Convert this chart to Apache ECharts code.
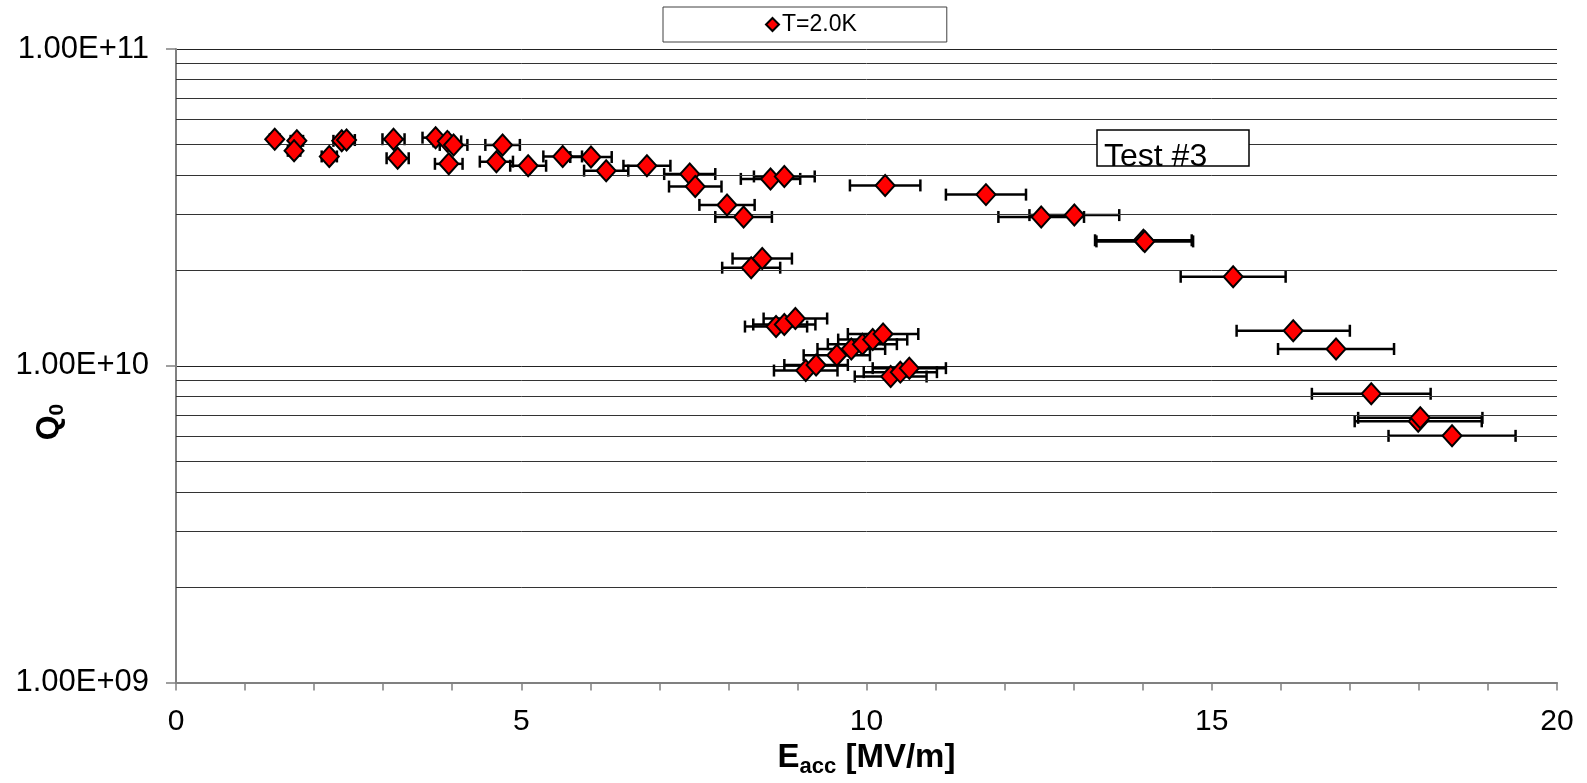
<!DOCTYPE html>
<html>
<head>
<meta charset="utf-8">
<script src="https://cdn.jsdelivr.net/npm/echarts@6/dist/echarts.min.js"></script>
<style>
html,body{margin:0;padding:0;background:#fff;}
#chart{width:1587px;height:783px;}
</style>
</head>
<body>
<div id="chart"></div>
<script>
// ---- data ----
const seriesName = 'T=2.0K';
const eacc = [1.43, 1.75, 1.71, 2.22, 2.40, 2.47, 3.15, 3.21, 3.76, 3.93, 4.02, 3.95, 4.73, 4.64, 5.10, 5.60, 6.01, 6.23, 6.82, 7.44,
  7.52, 7.98, 8.22, 8.61, 8.81, 10.27, 11.73, 12.53, 13.01, 14.01, 14.03, 15.31, 16.18, 16.80, 17.31, 17.99, 18.02, 18.48,
  8.33, 8.49, 8.69, 8.81, 8.97, 9.12, 9.27, 9.57, 9.78, 9.94, 10.09, 10.24, 10.35, 10.49, 10.62];
const q0 = [5.19e10, 5.13e10, 4.77e10, 4.58e10, 5.13e10, 5.16e10, 5.19e10, 4.52e10, 5.25e10, 5.11e10, 4.98e10, 4.34e10, 4.98e10, 4.41e10, 4.28e10, 4.58e10, 4.56e10, 4.13e10, 4.28e10, 4.03e10,
  3.68e10, 3.22e10, 2.95e10, 3.89e10, 3.96e10, 3.71e10, 3.47e10, 2.95e10, 2.99e10, 2.49e10, 2.47e10, 1.91e10, 1.29e10, 1.13e10, 8.16e9, 6.68e9, 6.85e9, 6.01e9,
  2.04e10, 2.18e10, 1.33e10, 1.35e10, 1.41e10, 9.66e9, 1.006e10, 1.08e10, 1.13e10, 1.17e10, 1.21e10, 1.26e10, 9.25e9, 9.55e9, 9.83e9];
const errE = [0.07, 0.09, 0.09, 0.11, 0.12, 0.12, 0.16, 0.16, 0.19, 0.20, 0.20, 0.20, 0.25, 0.24, 0.26, 0.28, 0.30, 0.32, 0.34, 0.37,
  0.38, 0.40, 0.41, 0.43, 0.44, 0.51, 0.58, 0.62, 0.65, 0.70, 0.70, 0.76, 0.82, 0.84, 0.86, 0.92, 0.90, 0.92,
  0.42, 0.43, 0.45, 0.45, 0.46, 0.46, 0.46, 0.48, 0.49, 0.50, 0.50, 0.51, 0.52, 0.53, 0.53];
const xTickLabels = [0, 5, 10, 15, 20];
const yTickValues = [1e9, 1e10, 1e11];
const minorGridQ = [2e9, 3e9, 4e9, 5e9, 6e9, 7e9, 8e9, 9e9, 2e10, 3e10, 4e10, 5e10, 6e10, 7e10, 8e10, 9e10];
const annotation = 'Test #3';

// ---- build chart ----
const FONT = "'Liberation Sans', Arial, sans-serif";
const points = eacc.map((e, i) => [e, q0[i]]);
const errRows = eacc.map((e, i) => [e, q0[i], errE[i]]);

function fmtY(v) {
  const exp = Math.round(Math.log10(v));
  const mant = v / Math.pow(10, exp);
  return mant.toFixed(2) + 'E+' + String(exp).padStart(2, '0');
}

const chart = echarts.init(document.getElementById('chart'), null, {renderer: 'canvas'});
chart.setOption({
  animation: false,
  backgroundColor: '#fff',
  textStyle: {fontFamily: FONT},
  grid: {left: 176, right: 30, top: 49, bottom: 98},
  legend: {
    data: [seriesName],
    left: 663, top: 7,
    padding: [6, 90, 6, 102],
    borderColor: '#404040', borderWidth: 1,
    itemWidth: 13, itemHeight: 13,
    icon: 'diamond',
    textStyle: {fontFamily: FONT, fontSize: 23, color: '#000', padding: [0, 0, 0, -2]}
  },
  xAxis: {
    type: 'value', min: 0, max: 20, interval: 1,
    name: '{e|E}{s|acc}{e| [MV/m]}',
    nameLocation: 'middle', nameGap: 54,
    nameTextStyle: {
      rich: {
        e: {fontFamily: FONT, fontSize: 33, fontWeight: 'bold', color: '#000', lineHeight: 40},
        s: {fontFamily: FONT, fontSize: 22, fontWeight: 'bold', color: '#000', verticalAlign: 'bottom', lineHeight: 40, padding: [12, 0, 0, 0]}
      }
    },
    axisLine: {lineStyle: {color: '#808080', width: 2}},
    axisTick: {show: true, inside: false, length: 8, lineStyle: {color: '#808080', width: 1.5}},
    axisLabel: {
      interval: 0, margin: 24, fontFamily: FONT, fontSize: 30, color: '#000',
      formatter: v => (xTickLabels.indexOf(v) >= 0 ? String(v) : '')
    },
    splitLine: {show: false}
  },
  yAxis: {
    type: 'log', logBase: 10, min: yTickValues[0], max: yTickValues[yTickValues.length - 1],
    axisLine: {show: true, lineStyle: {color: '#808080', width: 2}},
    axisTick: {show: true, inside: false, length: 10, lineStyle: {color: '#808080', width: 1.5}},
    axisLabel: {margin: 27, fontFamily: FONT, fontSize: 31, color: '#000', formatter: v => fmtY(v)},
    splitLine: {show: true, lineStyle: {color: '#222', width: 1}}
  },
  graphic: [
    {
      type: 'text', x: 49, y: 422, rotation: Math.PI / 2,
      style: {
        text: '{q|Q}{s|0}',
        align: 'center', verticalAlign: 'middle',
        rich: {
          q: {fontFamily: FONT, fontSize: 32, fontWeight: 'bold', fill: '#000', lineHeight: 38},
          s: {fontFamily: FONT, fontSize: 21, fontWeight: 'bold', fill: '#000', verticalAlign: 'bottom', lineHeight: 38, padding: [12, 0, 0, 0]}
        }
      }
    },
    {
      type: 'rect', shape: {x: 1097, y: 130, width: 152, height: 36},
      style: {fill: '#fff', stroke: '#000', lineWidth: 1.5}, z: 10
    },
    {
      type: 'text', x: 1104, y: 157, z: 11,
      style: {text: annotation, fontFamily: FONT, fontSize: 32, fill: '#000', align: 'left', verticalAlign: 'middle'}
    }
  ],
  series: [
    {
      type: 'line', data: [], silent: true, z: 1,
      markLine: {
        silent: true, symbol: ['none', 'none'], label: {show: false},
        lineStyle: {color: '#333', width: 1, type: 'solid'},
        data: minorGridQ.map(v => ({yAxis: v}))
      }
    },
    {
      type: 'custom', name: 'err', z: 3, silent: true,
      data: errRows,
      encode: {x: 0, y: 1},
      renderItem: function (params, api) {
        const e = api.value(0), q = api.value(1), d = api.value(2);
        const a = api.coord([e - d, q]);
        const b = api.coord([e + d, q]);
        const h = 6;
        const st = {stroke: '#000', lineWidth: 2.5};
        return {
          type: 'group',
          children: [
            {type: 'line', shape: {x1: a[0], y1: a[1], x2: b[0], y2: b[1]}, style: st},
            {type: 'line', shape: {x1: a[0], y1: a[1] - h, x2: a[0], y2: a[1] + h}, style: st},
            {type: 'line', shape: {x1: b[0], y1: b[1] - h, x2: b[0], y2: b[1] + h}, style: st}
          ]
        };
      }
    },
    {
      type: 'scatter', name: seriesName, z: 5,
      data: points,
      symbol: 'diamond', symbolSize: [19, 21],
      itemStyle: {color: '#ff0000', borderColor: '#000', borderWidth: 2, opacity: 1}
    }
  ]
});
</script>
</body>
</html>
